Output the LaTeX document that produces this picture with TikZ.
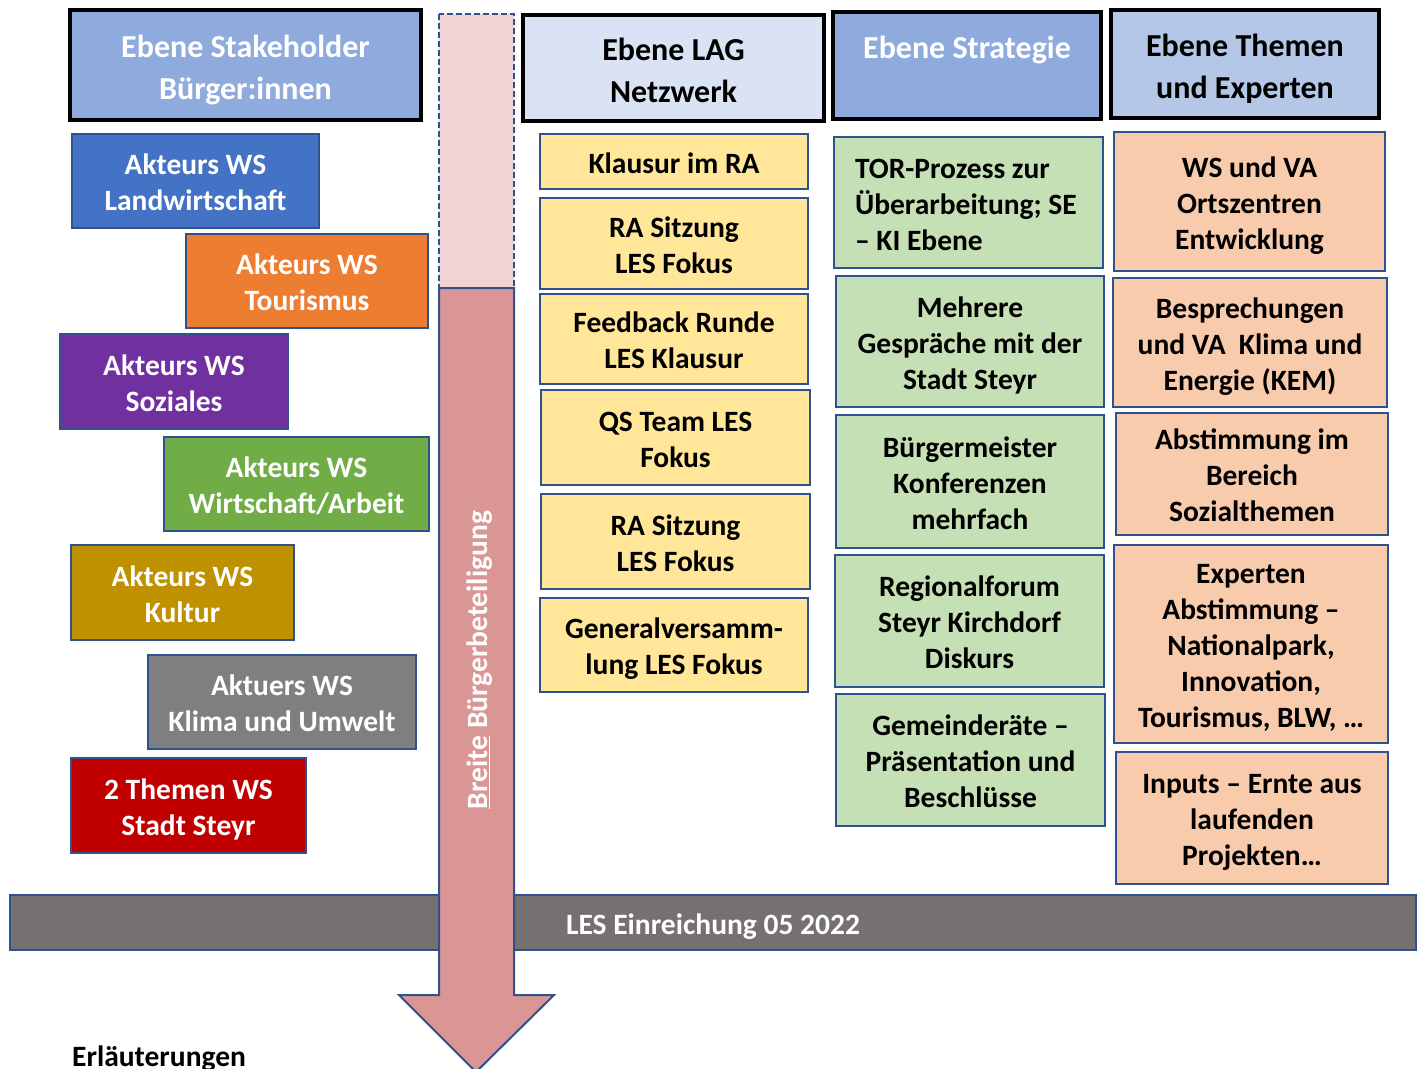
\documentclass[tikz,border=0pt]{standalone}
\usepackage{fontspec}
\setmainfont{Carlito}
\usepackage{xcolor}
\usetikzlibrary{arrows.meta}
\definecolor{bdr}{HTML}{2F528F}
\definecolor{hdrblue}{HTML}{8FAADC}
\definecolor{lagblue}{HTML}{DAE3F3}
\definecolor{themblue}{HTML}{B4C7E7}
\definecolor{wsblue}{HTML}{4472C4}
\definecolor{wsorange}{HTML}{ED7D31}
\definecolor{wspurple}{HTML}{7030A0}
\definecolor{wsgreen}{HTML}{70AD47}
\definecolor{wsgold}{HTML}{BF9000}
\definecolor{wsgray}{HTML}{7F7F7F}
\definecolor{wsred}{HTML}{C00000}
\definecolor{lagyellow}{HTML}{FFE699}
\definecolor{stratgreen}{HTML}{C5E0B4}
\definecolor{themsalmon}{HTML}{F8CBAD}
\definecolor{barbg}{HTML}{767171}
\definecolor{arrowpink}{HTML}{D99694}
\definecolor{lightpink}{HTML}{EFD3D5}
% line strut in the manner of the office layout
\newcommand{\lstrut}{\rule[-0.17\baselineskip]{0pt}{\baselineskip}}

\begin{document}
\begin{tikzpicture}[
    x=1pt, y=-1pt,
    every node/.style={font=\bfseries\fontsize{29.5}{36}\selectfont, align=flush center, inner sep=0pt},
    lines/.style={execute at begin node=\lstrut, execute at end node=\lstrut},
    bw/.style={minimum width=#1, text width=#1},
    hdr/.style={lines, draw=black, line width=4pt, font=\bfseries\fontsize{32}{42}\selectfont},
    box/.style={lines, draw=bdr, line width=2.2pt},
    ws/.style={box, text=white},
    lag/.style={box, fill=lagyellow},
    strat/.style={box, fill=stratgreen},
    thema/.style={box, fill=themsalmon},
]
\useasboundingbox (0,0) rectangle (1421,1068);
% column headers
\node[hdr, fill=hdrblue, text=white, bw=351, minimum height=110] (hsh) at (245.5,65) {Ebene Stakeholder\\Bürger:innen};
\node[hdr, fill=lagblue, bw=301, minimum height=106] (hlag) at (673.5,68) {Ebene LAG\\Netzwerk};
\node[hdr, fill=hdrblue, text=white, bw=268, minimum height=107] (hstr) at (967,65.5) {Ebene Strategie\\[0pt]};
\node[hdr, fill=themblue, bw=268, minimum height=108] (hthm) at (1245,64) {Ebene Themen\\und Experten};
% stakeholder workshops
\node[ws, fill=wsblue, bw=247, minimum height=94] (ws1) at (195.5,181) {Akteurs WS\\Landwirtschaft};
\node[ws, fill=wsorange, bw=242, minimum height=94] (ws2) at (307,281) {Akteurs WS\\Tourismus};
\node[ws, fill=wspurple, bw=228, minimum height=95] (ws3) at (174,381.5) {Akteurs WS\\Soziales};
\node[ws, fill=wsgreen, bw=265, minimum height=94] (ws4) at (296.5,484) {Akteurs WS\\Wirtschaft/Arbeit};
\node[ws, fill=wsgold, bw=223, minimum height=95] (ws5) at (182.5,592.5) {Akteurs WS\\Kultur};
\node[ws, fill=wsgray, bw=268, minimum height=94] (ws6) at (282,702) {Aktuers WS\\Klima und Umwelt};
\node[ws, fill=wsred, bw=235, minimum height=95] (ws7) at (188.5,805.5) {2 Themen WS\\Stadt Steyr};
% LAG network
\node[lag, bw=268, minimum height=55] (lag1) at (674,161.5) {Klausur im RA};
\node[lag, bw=268, minimum height=91] (lag2) at (674,243.5) {RA Sitzung\\LES Fokus};
\node[lag, bw=268, minimum height=90] (lag3) at (674,339) {Feedback Runde\\LES Klausur};
\node[lag, bw=269, minimum height=95] (lag4) at (675.5,437.5) {QS Team LES\\Fokus};
\node[lag, bw=269, minimum height=95] (lag5) at (675.5,541.5) {RA Sitzung\\LES Fokus};
\node[lag, bw=268, minimum height=94] (lag6) at (674,645) {Generalversamm-\\lung LES Fokus};
% strategy
\node[strat, minimum height=131, text width=227, inner xsep=21pt, align=flush left] (str1) at (968.5,202.5) {TOR-Prozess zur\\Überarbeitung; SE\\– KI Ebene};
\node[strat, bw=268, minimum height=131] (str2) at (970,341.5) {Mehrere\\Gespräche mit der\\Stadt Steyr};
\node[strat, bw=268, minimum height=133] (str3) at (970,481.5) {Bürgermeister\\Konferenzen\\mehrfach};
\node[strat, bw=269, minimum height=132] (str4) at (969.5,621) {Regionalforum\\Steyr Kirchdorf\\Diskurs};
\node[strat, bw=269, minimum height=132] (str5) at (970.5,760) {Gemeinderäte –\\Präsentation und\\Beschlüsse};
% topics and experts
\node[thema, bw=271, minimum height=139] (thm1) at (1249.5,201.5) {WS und VA\\Ortszentren\\Entwicklung};
\node[thema, bw=274, minimum height=129] (thm2) at (1250,342.5) {Besprechungen\\und VA~ Klima und\\Energie (KEM)};
\node[thema, bw=272, minimum height=122] (thm3) at (1252,474) {Abstimmung im\\Bereich\\Sozialthemen};
\node[thema, bw=274, minimum height=198] (thm4) at (1251,644) {Experten\\Abstimmung –\\Nationalpark,\\Innovation,\\Tourismus, BLW, …};
\node[thema, bw=272, minimum height=132] (thm5) at (1252,818) {Inputs – Ernte aus\\laufenden\\Projekten…};
% submission bar
\node[lines, draw=bdr, line width=2pt, fill=barbg, text=white,
    bw=1406, minimum height=55] (bar) at (713,922.5) {LES Einreichung 05 2022};
% participation arrow
\draw[bdr, line width=2pt, dash pattern=on 6pt off 3pt, fill=lightpink] (439,14) rectangle (514,288);
\draw[bdr, line width=2pt, fill=arrowpink, line join=miter]
    (439,288) -- (514,288) -- (514,995) -- (554,995) -- (476,1072) -- (399,995) -- (439,995) -- cycle;
\node[rotate=90, text=white] (bbt) at (480,660) {\underline{Breite} Bürgerbeteiligung};
% legend
\node[anchor=base west] (erl) at (72,1066) {Erläuterungen};
\end{tikzpicture}
\end{document}
